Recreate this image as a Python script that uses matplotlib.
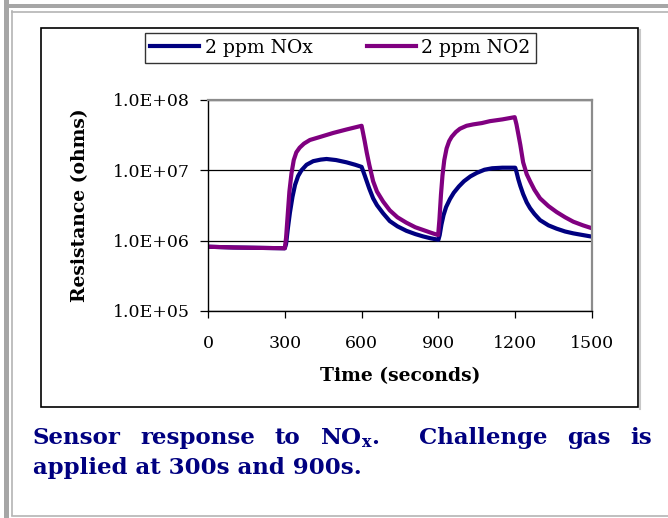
import matplotlib
matplotlib.use("Agg")
import matplotlib.pyplot as plt
from matplotlib.lines import Line2D
from matplotlib.patches import Rectangle
from matplotlib.ticker import FixedLocator, NullLocator

plt.rcParams.update({
    "font.family": "DejaVu Serif",
    "mathtext.fontset": "custom",
    "mathtext.rm": "DejaVu Serif",
    "mathtext.bf": "DejaVu Serif:bold",
})

# -------- data --------
nox_t = [0, 100, 200, 300, 305, 312, 320, 330, 340, 352, 365, 385, 411, 440,
         463, 500, 541, 575, 600, 605, 612, 620, 630, 645, 660, 684, 710, 740,
         775, 810, 840, 870, 900, 905, 912, 920, 930, 945, 960, 980, 1000,
         1025, 1050, 1080, 1110, 1150, 1200, 1205, 1212, 1220, 1231, 1245,
         1258, 1275, 1297, 1330, 1362, 1395, 1427, 1465, 1500]
nox_r = [8.2e5, 8.0e5, 7.9e5, 7.8e5, 9.0e5, 1.5e6, 2.5e6, 4.2e6, 6.2e6, 8.3e6,
         1.0e7, 1.2e7, 1.35e7, 1.42e7, 1.45e7, 1.4e7, 1.3e7, 1.2e7, 1.12e7,
         1.0e7, 8.5e6, 7.0e6, 5.5e6, 4.0e6, 3.2e6, 2.45e6, 1.9e6, 1.6e6,
         1.38e6, 1.24e6, 1.15e6, 1.08e6, 1.03e6, 1.2e6, 1.7e6, 2.3e6, 3.0e6,
         3.9e6, 4.8e6, 5.9e6, 7.0e6, 8.2e6, 9.2e6, 1.02e7, 1.07e7, 1.09e7,
         1.09e7, 9.5e6, 7.5e6, 6.0e6, 4.6e6, 3.5e6, 2.9e6, 2.4e6, 1.96e6,
         1.65e6, 1.48e6, 1.35e6, 1.27e6, 1.2e6, 1.14e6]

no2_t = [0, 100, 200, 300, 305, 312, 318, 326, 335, 345, 358, 375, 398, 440,
         489, 540, 600, 605, 612, 620, 630, 645, 660, 684, 710, 740, 775, 810,
         840, 870, 899, 904, 910, 916, 923, 932, 942, 952, 968, 984, 1010,
         1036, 1070, 1101, 1150, 1198, 1205, 1212, 1220, 1231, 1245, 1258,
         1275, 1297, 1330, 1362, 1395, 1427, 1465, 1500]
no2_r = [8.2e5, 8.0e5, 7.9e5, 7.8e5, 1.1e6, 2.5e6, 5.0e6, 9.0e6, 1.4e7, 1.8e7,
         2.1e7, 2.4e7, 2.7e7, 3.0e7, 3.4e7, 3.8e7, 4.3e7, 3.5e7, 2.6e7,
         1.8e7, 1.2e7, 7.0e6, 5.0e6, 3.6e6, 2.7e6, 2.15e6, 1.8e6, 1.55e6,
         1.42e6, 1.3e6, 1.2e6, 2.0e6, 4.5e6, 8.5e6, 1.4e7, 2.05e7, 2.6e7,
         3.0e7, 3.5e7, 3.9e7, 4.3e7, 4.5e7, 4.7e7, 5.0e7, 5.3e7, 5.7e7,
         4.5e7, 3.3e7, 2.3e7, 1.3e7, 8.8e6, 7.0e6, 5.3e6, 4.0e6, 3.1e6,
         2.55e6, 2.15e6, 1.86e6, 1.65e6, 1.5e6]

series_labels = ["2 ppm NOx", "2 ppm NO2"]
x_ticks = [0, 300, 600, 900, 1200, 1500]
y_ticks = [1e5, 1e6, 1e7, 1e8]
y_ticklabels = ["1.0E+05", "1.0E+06", "1.0E+07", "1.0E+08"]
caption_line1 = ["Sensor", "response", "to", r"NO$_{\mathbf{x}}$.", "Challenge", "gas", "is"]
caption_line2 = "applied at 300s and 900s."

NAVY = "#000080"
PURPLE = "#800080"

W, H = 668, 518


def fx(x):
    return x / W


def fy(y):
    return 1 - y / H


fig = plt.figure(figsize=(6.68, 5.18), dpi=100)

# page decoration: gray borders of the scanned page
fig.add_artist(Rectangle((fx(4), fy(518)), fx(5), 1, color="#a6a6a6", lw=0))
fig.add_artist(Rectangle((fx(4), fy(8)), 1, 4 / H, color="#a6a6a6", lw=0))
fig.add_artist(Line2D([fx(12), fx(12)], [fy(11), fy(515)], color="#b4b4b4", lw=1.2))
fig.add_artist(Line2D([fx(12), 1], [fy(11.5), fy(11.5)], color="#b4b4b4", lw=1.2))
fig.add_artist(Line2D([fx(12), 1], [fy(515.5), fy(515.5)], color="#b4b4b4", lw=1.2))

# chart frame (with light shadow on the right)
fig.add_artist(Line2D([fx(640), fx(640)], [fy(30), fy(409)], color="#c8c8c8", lw=1.5))
fig.add_artist(Rectangle((fx(41), fy(407)), fx(597), (407 - 28) / H,
                         fill=False, ec="black", lw=1.2))

ax = fig.add_axes([fx(208), fy(311), fx(384), 211 / H])
l1, = ax.plot(nox_t, nox_r, color=NAVY, lw=3.0, solid_joinstyle="round")
l2, = ax.plot(no2_t, no2_r, color=PURPLE, lw=3.0, solid_joinstyle="round")

ax.set_yscale("log")
ax.set_xlim(0, 1500)
ax.set_ylim(1e5, 1e8)
ax.set_xticks(x_ticks)
ax.xaxis.set_minor_locator(NullLocator())
ax.yaxis.set_major_locator(FixedLocator(y_ticks))
ax.yaxis.set_minor_locator(NullLocator())
ax.set_yticklabels(y_ticklabels)
ax.grid(axis="y", color="black", lw=0.9)
ax.set_axisbelow(True)

for side in ("top", "right"):
    ax.spines[side].set_color("#8c8c8c")
    ax.spines[side].set_linewidth(1.6)
for side in ("left", "bottom"):
    ax.spines[side].set_color("black")
    ax.spines[side].set_linewidth(1.0)

ax.tick_params(axis="y", length=6, width=0.9, direction="out", pad=7, labelsize=12.5)
ax.tick_params(axis="x", length=5, width=0.9, direction="out", pad=12, labelsize=12.5)

ax.set_xlabel("Time (seconds)", fontsize=13.5, fontweight="bold")
ax.set_ylabel("Resistance (ohms)", fontsize=13.5, fontweight="bold")
ax.xaxis.set_label_coords(0.5, -0.265)
ax.yaxis.set_label_coords(-0.31, 0.5)

leg = fig.legend([l1, l2], series_labels, loc="center",
                 bbox_to_anchor=(fx(340.5), fy(48)), ncol=2, fontsize=13.5,
                 frameon=True, fancybox=False, edgecolor="black",
                 handlelength=2.6, handletextpad=0.3, columnspacing=2.9,
                 borderpad=0.3, borderaxespad=0)
leg.get_frame().set_linewidth(1.0)
for line in leg.get_lines():
    line.set_linewidth(3.0)

# caption, first line justified between the margins
renderer = fig.canvas.get_renderer()
words = [fig.text(0, fy(444), w, fontsize=16.5, fontweight="bold", color=NAVY,
                  va="baseline", ha="left") for w in caption_line1]
widths = [t.get_window_extent(renderer).width for t in words]
left, right = 33, 652
gap = (right - left - sum(widths)) / len(words)
x = left
for i, (t, w) in enumerate(zip(words, widths)):
    t.set_x(fx(x))
    x += w + gap * (2 if i == 3 else 1)

fig.text(fx(33), fy(474), caption_line2, fontsize=16.5, fontweight="bold",
         color=NAVY, va="baseline", ha="left")

fig.savefig("out.png", dpi=100)
